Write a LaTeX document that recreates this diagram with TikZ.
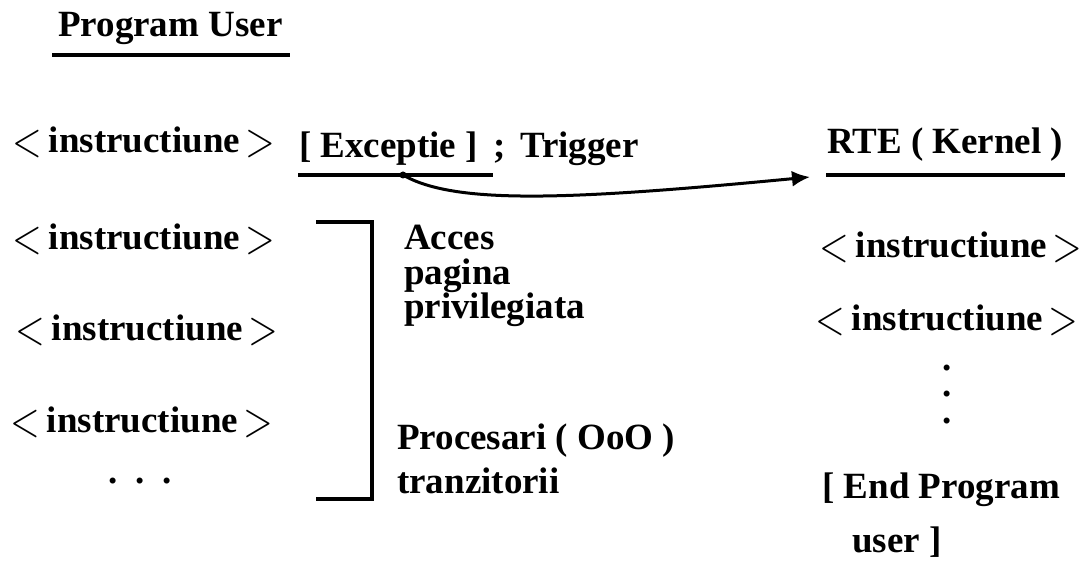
\documentclass[tikz,border=0pt]{standalone}
\usepackage{fix-cm}
\usepackage{fontspec}
\setmainfont{Liberation Serif}
\usepackage{graphicx}
\usetikzlibrary{arrows.meta}

\newcommand{\ltmark}{\raisebox{-4pt}{\scalebox{0.78}[1]{\fontsize{50}{50}\selectfont$<$}}}
\newcommand{\gtmark}{\raisebox{-4pt}{\scalebox{0.78}[1]{\fontsize{50}{50}\selectfont$>$}}}
\newcommand{\instrline}{\ltmark\hspace{7pt}instructiune\hspace{5pt}\gtmark}

\tikzset{
	txt/.style={font=\bfseries\fontsize{37}{38}\selectfont, inner sep=0pt, anchor=base west},
	uline/.style={line width=4pt},
	bracket/.style={line width=4pt},
	trigarrow/.style={line width=3pt, -{Latex[length=18pt,width=16pt]}}
}

\begin{document}
\begin{tikzpicture}[x=1pt,y=-1pt]
	\useasboundingbox (0,0) rectangle (1082,561);

	% program user side
	\node[txt] (pu) at (58,37) {Program User};
	\draw[uline] (52,55) -- (290,55);
	\node[txt] (pi1) at (12,153) {\instrline};
	\node[txt] (pi2) at (12,250) {\instrline};
	\node[txt] (pi3) at (15,341) {\instrline};
	\node[txt] (pi4) at (10,432) {\instrline};
	\node[txt] (pdots) at (108.5,483) {.\hspace{17.75pt}.\hspace{17.75pt}.};

	% exception and trigger
	\node[txt] (exc) at (299,158) {[ Exceptie ]\hspace{16pt};\hspace{14pt}Trigger};
	\draw[uline, line width=3.5pt] (298,175) -- (493,175);
	\coordinate (trig) at (403,175);
	\coordinate (rtein) at (810,177);
	\fill (trig) circle (3.5);
	\draw[trigarrow] (trig) .. controls (455,205) and (570,200) .. (rtein);

	% bracket with notes (base = last line)
	\draw[bracket] (316,222) -- (372,222) -- (372,499) -- (316,499);
	\node[txt, align=left, font=\bfseries\fontsize{37}{34.5}\selectfont] (acces) at (404,319) {Acces\\pagina\\privilegiata};
	\node[txt, align=left, font=\bfseries\fontsize{37}{44}\selectfont] (ooo) at (397,493) {Procesari ( OoO )\\tranzitorii};

	% kernel side
	\node[txt] (rte) at (827,154) {RTE ( Kernel )};
	\draw[uline, line width=3.5pt] (826,175) -- (1065,175);
	\node[txt] (ki1) at (819,258) {\instrline};
	\node[txt] (ki2) at (815,331) {\instrline};
	\node[txt, anchor=base, align=center, font=\bfseries\fontsize{37}{26.5}\selectfont] (kdots) at (947,423) {.\\.\\.};
	\node[txt, align=left, font=\bfseries\fontsize{37}{54}\selectfont] (kend) at (822,552) {[ End Program\\\hspace*{30pt}user ]};
\end{tikzpicture}
\end{document}
